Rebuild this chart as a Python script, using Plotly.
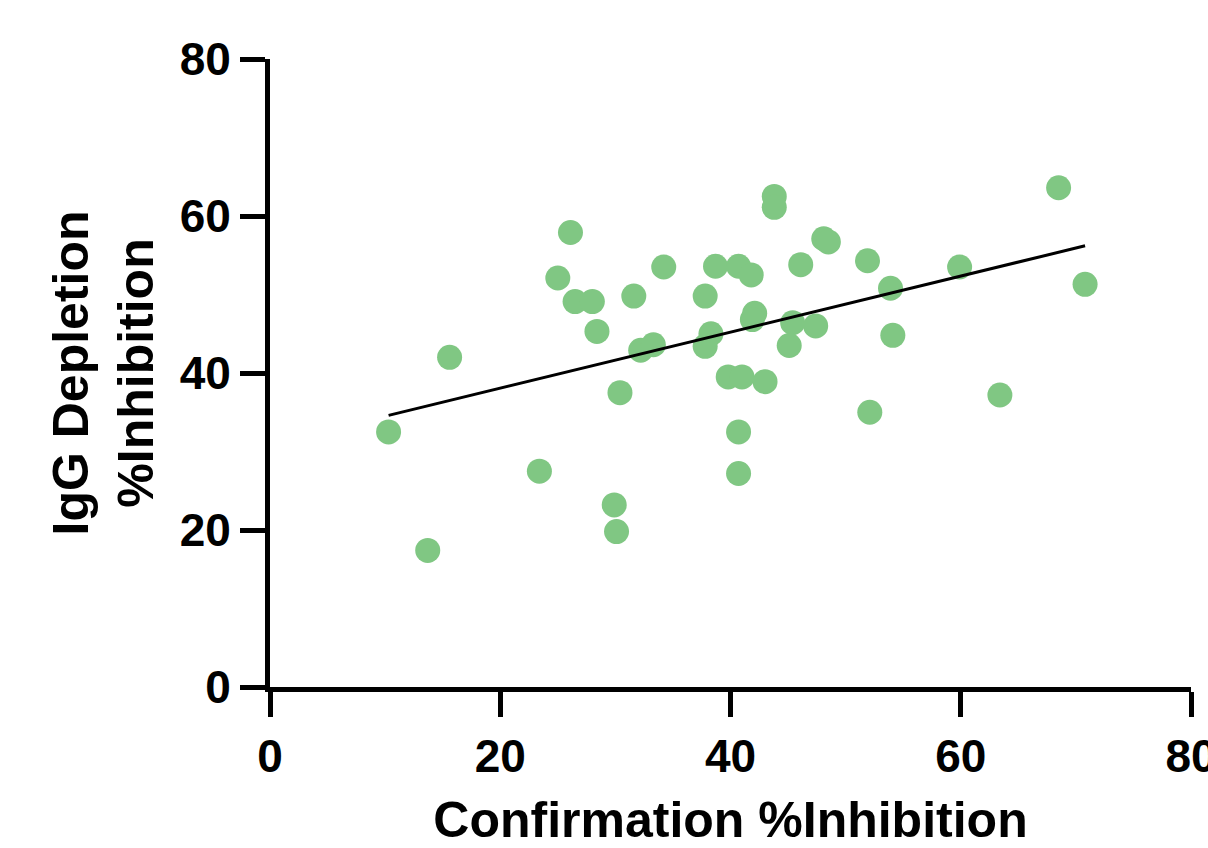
import plotly.graph_objects as go

# Data
confirmation = [26.1, 25.0, 26.5, 28.0, 28.4, 31.6, 15.6, 32.2, 33.3, 30.4,
                10.3, 23.4, 29.9, 30.1, 13.7,
                43.8, 43.8, 48.1, 48.5, 34.2, 38.7, 40.7, 41.8, 46.1, 51.9,
                37.8, 53.9, 42.1, 41.9, 38.3, 37.8, 45.4, 47.4, 45.1, 54.1,
                39.8, 41.0, 43.0, 52.1, 40.7, 40.7,
                68.5, 59.9, 70.8, 63.4]
igg_depletion = [57.9, 52.1, 49.1, 49.1, 45.3, 49.8, 42.0, 42.9, 43.6, 37.5,
                 32.5, 27.5, 23.2, 19.8, 17.4,
                 62.5, 61.1, 57.1, 56.7, 53.5, 53.6, 53.6, 52.5, 53.8, 54.3,
                 49.8, 50.8, 47.6, 46.8, 45.0, 43.4, 46.4, 46.0, 43.5, 44.8,
                 39.5, 39.5, 38.9, 35.0, 32.5, 27.2,
                 63.6, 53.5, 51.3, 37.2]

fit_x = [10.3, 70.8]
fit_y = [34.6, 56.2]

x_ticks = [0, 20, 40, 60, 80]
y_ticks = [0, 20, 40, 60, 80]

FONT = "Liberation Sans"

fig = go.Figure()
fig.add_trace(go.Scatter(
    x=confirmation, y=igg_depletion, mode="markers",
    marker=dict(size=25, color="rgb(128,199,131)", line=dict(width=0)),
    showlegend=False, cliponaxis=False,
))
fig.add_trace(go.Scatter(
    x=fit_x, y=fit_y, mode="lines",
    line=dict(color="black", width=3),
    showlegend=False,
))

axis_common = dict(
    showgrid=False, zeroline=False,
    showline=True, linecolor="black", linewidth=5,
    ticks="outside", ticklen=25, tickwidth=5, tickcolor="black",
    tickfont=dict(family=FONT, size=46, color="black", weight="bold"),
    ticklabeloverflow="allow",
    automargin=False,
    range=[0, 80],
)

fig.update_layout(
    width=1208, height=848,
    margin=dict(l=270, r=17, t=59, b=161),
    plot_bgcolor="white", paper_bgcolor="white",
    xaxis=dict(
        **axis_common,
        tickvals=x_ticks,
        title=dict(text="Confirmation %Inhibition",
                   font=dict(family=FONT, size=50, color="black", weight="bold"),
                   standoff=36),
    ),
    yaxis=dict(
        **axis_common,
        tickvals=y_ticks,
        title=dict(text="IgG Depletion<br>%Inhibition",
                   font=dict(family=FONT, size=50, color="black", weight="bold"),
                   standoff=12),
    ),
)

fig.write_html("out.html")
